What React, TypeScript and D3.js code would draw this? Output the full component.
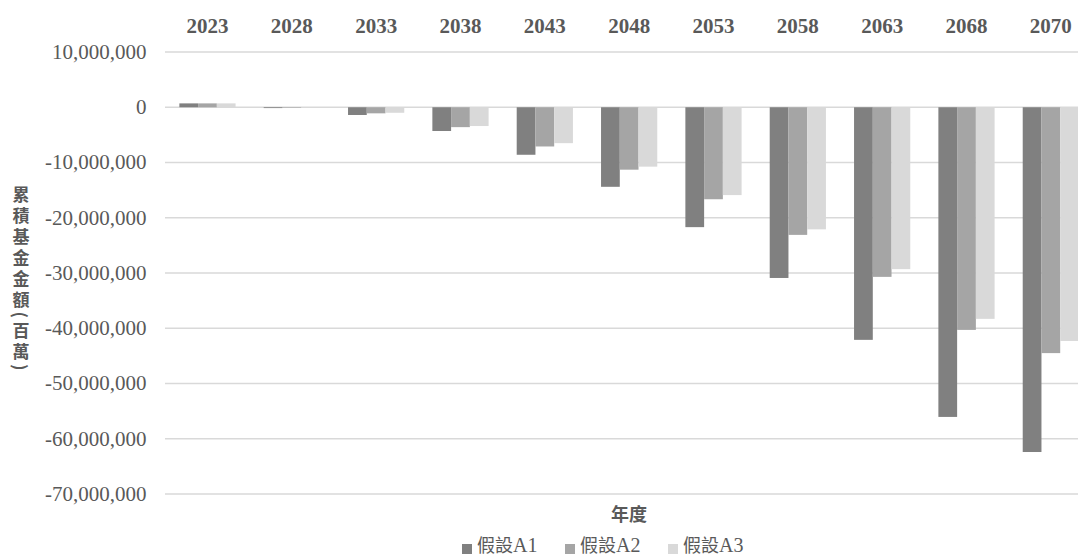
import React from "react";
import * as d3 from "d3";

const years = ["2023", "2028", "2033", "2038", "2043", "2048", "2053", "2058", "2063", "2068", "2070"];
const seriesNames = ["假設A1", "假設A2", "假設A3"];
const a1 = [700000, -150000, -1400000, -4300000, -8600000, -14400000, -21700000, -30900000, -42100000, -56050000, -62400000];
const a2 = [700000, -100000, -1100000, -3600000, -7100000, -11300000, -16650000, -23100000, -30700000, -40300000, -44500000];
const a3 = [700000, -100000, -1000000, -3400000, -6500000, -10750000, -15900000, -22100000, -29300000, -38300000, -42300000];
const yTicks = [10000000, 0, -10000000, -20000000, -30000000, -40000000, -50000000, -60000000, -70000000];
const colors = ["#808080", "#a5a5a5", "#d9d9d9"];

const W = 1078;
const H = 558;

export default function App() {
  const series = [a1, a2, a3];
  const y = d3.scaleLinear().domain([-70000000, 10000000]).range([494, 52]);
  const x = d3.scaleBand().domain(years).range([165.3, 1093]).padding(0);
  const step = x.step();
  const bw = step / 4.5;
  const fmt = (v: number) => d3.format(",")(v).replace("\u2212", "-");
  const serif = "Liberation Serif, Tinos, Times New Roman, serif";
  const cjk = "Noto Sans CJK TC, Noto Sans CJK SC, sans-serif";
  const textColor = "#595959";

  const legendX = [462, 565, 668];

  return (
    <svg width={W} height={H} style={{ position: "absolute", left: 0, top: 0, background: "#fff" }}>
      {yTicks.map((t) => (
        <g key={t}>
          <line x1={165} x2={W} y1={y(t)} y2={y(t)} stroke="#d9d9d9" strokeWidth={1.4} />
          <text x={146.5} y={y(t)} dy="0.33em" textAnchor="end" fontFamily={serif} fontSize={21} fill={textColor}>
            {fmt(t)}
          </text>
        </g>
      ))}
      {years.map((yr, i) => {
        const cx = (x(yr) as number) + step / 2;
        return (
          <g key={yr}>
            <text x={cx} y={33} textAnchor="middle" fontFamily={serif} fontWeight="bold" fontSize={21} fill={textColor}>
              {yr}
            </text>
            {series.map((s, j) => {
              const v = s[i];
              const y0 = y(0);
              const yv = y(v);
              return (
                <rect
                  key={j}
                  x={cx - 1.5 * bw + j * bw}
                  y={Math.min(y0, yv)}
                  width={bw}
                  height={Math.abs(yv - y0)}
                  fill={colors[j]}
                />
              );
            })}
          </g>
        );
      })}
      <text
        x={21}
        y={280}
        textAnchor="middle"
        fontFamily={cjk}
        fontWeight="bold"
        fontSize={17}
        fill={textColor}
        style={{ writingMode: "vertical-rl", letterSpacing: "4px" }}
      >
        累積基金金額(百萬)
      </text>
      <text x={629} y={521} textAnchor="middle" fontFamily={cjk} fontWeight="bold" fontSize={18} fill={textColor}>
        年度
      </text>
      {seriesNames.map((n, j) => (
        <g key={n}>
          <rect x={legendX[j]} y={544} width={10} height={10} fill={colors[j]} />
          <text x={legendX[j] + 15} y={552} fill={textColor}>
            <tspan fontFamily={cjk} fontSize={18}>{n.slice(0, 2)}</tspan>
            <tspan fontFamily={serif} fontSize={20}>{n.slice(2)}</tspan>
          </text>
        </g>
      ))}
    </svg>
  );
}
